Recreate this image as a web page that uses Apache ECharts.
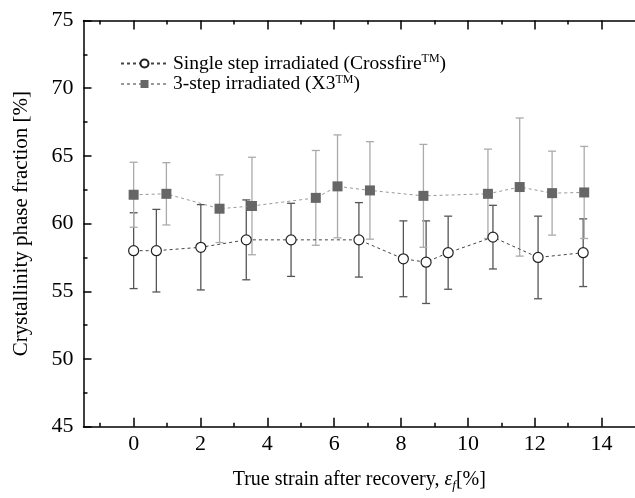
<!DOCTYPE html>
<html>
<head>
<meta charset="utf-8">
<script src="https://cdn.jsdelivr.net/npm/echarts@6/dist/echarts.min.js"></script>
<style>html,body{margin:0;padding:0;background:#fff}#c{width:635px;height:498px}</style>
</head>
<body>
<div id="c"></div>
<script>
var singleX = [0, 0.68, 2.01, 3.37, 4.71, 6.74, 8.07, 8.75, 9.41, 10.75, 12.1, 13.45];
var singleY = [58.0, 58.0, 58.25, 58.8, 58.8, 58.8, 57.4, 57.15, 57.85, 59.0, 57.5, 57.85];
var singleErr = [2.8, 3.05, 3.15, 2.95, 2.7, 2.75, 2.8, 3.05, 2.7, 2.35, 3.05, 2.5];
var tripleX = [0, 0.98, 2.57, 3.54, 5.45, 6.1, 7.07, 8.67, 10.6, 11.55, 12.52, 13.48];
var tripleY = [62.13, 62.2, 61.1, 61.3, 61.9, 62.75, 62.45, 62.05, 62.2, 62.7, 62.25, 62.3];
var tripleErr = [2.4, 2.3, 2.5, 3.6, 3.5, 3.8, 3.6, 3.8, 3.3, 5.1, 3.1, 3.4];
var xMajor = [0, 2, 4, 6, 8, 10, 12, 14];
var xMinor = [-1, 1, 3, 5, 7, 9, 11, 13];
var seriesNames = ['Single step irradiated (Crossfire', '3-step irradiated (X3'];

var FONT = 'Liberation Serif';
function pts(xs, ys) { return xs.map(function (x, i) { return [x, ys[i]]; }); }
function errs(xs, ys, es) { return xs.map(function (x, i) { return [x, ys[i], es[i]]; }); }
function errRender(color) {
  return function (params, api) {
    var x = api.value(0), y = api.value(1), e = api.value(2);
    var top = api.coord([x, y + e]);
    var bot = api.coord([x, y - e]);
    var w = 4;
    var st = { stroke: color, lineWidth: 1.3 };
    return {
      type: 'group',
      children: [
        { type: 'line', shape: { x1: top[0], y1: top[1], x2: bot[0], y2: bot[1] }, style: st },
        { type: 'line', shape: { x1: top[0] - w, y1: top[1], x2: top[0] + w, y2: top[1] }, style: st },
        { type: 'line', shape: { x1: bot[0] - w, y1: bot[1], x2: bot[0] + w, y2: bot[1] }, style: st }
      ]
    };
  };
}
function axisLineOpt(show) { return { show: show, onZero: false, lineStyle: { color: '#000', width: 1.5 } }; }
function xAx(pos, vals, len, opts) {
  var a = {
    type: 'value', position: pos, min: -1.5, max: 15,
    axisLine: axisLineOpt(true),
    splitLine: { show: false },
    axisTick: { show: true, inside: true, length: len, customValues: vals, lineStyle: { color: '#000', width: 1.5 } },
    axisLabel: { show: false }
  };
  for (var k in opts) a[k] = opts[k];
  return a;
}
var chart = echarts.init(document.getElementById('c'));
chart.setOption({
  animation: false,
  backgroundColor: '#fff',
  grid: { left: 83.5, top: 20.5, width: 552.75, height: 406.2 },
  legend: {
    orient: 'vertical', left: 115, top: 48, itemWidth: 47, itemHeight: 10, itemGap: 0,
    data: seriesNames,
    formatter: function (n) { return n + '{sup|TM}' + ')'; },
    textStyle: {
      fontFamily: FONT, fontSize: 19.5, color: '#000', lineHeight: 18,
      rich: { sup: { fontFamily: FONT, fontSize: 12, padding: [0, 0, 9, 0], color: '#000' } }
    }
  },
  xAxis: [
    xAx('bottom', xMajor, 9, {
      axisLabel: { show: true, customValues: xMajor, fontFamily: FONT, fontSize: 22, color: '#000', margin: 7 },
      name: 'True strain after recovery, {i|ε}{sub|f}[%]', nameLocation: 'middle', nameGap: 42,
      nameTextStyle: {
        fontFamily: FONT, fontSize: 20, color: '#000',
        rich: {
          i: { fontFamily: FONT, fontStyle: 'italic', fontSize: 20, color: '#000' },
          sub: { fontFamily: FONT, fontStyle: 'italic', fontSize: 13, padding: [10, 0, 0, 0], color: '#000' }
        }
      }
    }),
    xAx('bottom', xMinor, 4, { axisLine: axisLineOpt(false) }),
    xAx('top', xMajor, 9, {}),
    xAx('top', xMinor, 4, { axisLine: axisLineOpt(false) })
  ],
  yAxis: {
    type: 'value', min: 45, max: 75, interval: 5,
    axisLine: axisLineOpt(true),
    splitLine: { show: false },
    axisTick: { show: true, inside: true, length: 8, lineStyle: { color: '#000', width: 1.5 } },
    minorTick: { show: true, splitNumber: 2, length: 4, lineStyle: { color: '#000', width: 1.5 } },
    axisLabel: { fontFamily: FONT, fontSize: 22, color: '#000', margin: 10 },
    name: 'Crystallinity phase fraction [%]', nameLocation: 'middle', nameGap: 52, nameRotate: 90,
    nameTextStyle: { fontFamily: FONT, fontSize: 21, color: '#000' }
  },
  series: [
    {
      type: 'custom', xAxisIndex: 0, renderItem: errRender('#555'),
      data: errs(singleX, singleY, singleErr), z: 1, silent: true
    },
    {
      type: 'custom', xAxisIndex: 0, renderItem: errRender('#aaa'),
      data: errs(tripleX, tripleY, tripleErr), z: 1, silent: true
    },
    {
      name: seriesNames[1], type: 'line', xAxisIndex: 0, data: pts(tripleX, tripleY),
      symbol: 'rect', symbolSize: 10, showAllSymbol: true,
      itemStyle: { color: '#666', borderWidth: 0 },
      lineStyle: { color: '#999', width: 1, type: [3, 3] }, z: 3
    },
    {
      name: seriesNames[0], type: 'line', xAxisIndex: 0, data: pts(singleX, singleY),
      symbol: 'circle', symbolSize: 10, showAllSymbol: true,
      itemStyle: { color: '#fff', borderColor: '#222', borderWidth: 1.2 },
      lineStyle: { color: '#444', width: 1, type: [3, 3] }, z: 4
    }
  ]
});
</script>
</body>
</html>
